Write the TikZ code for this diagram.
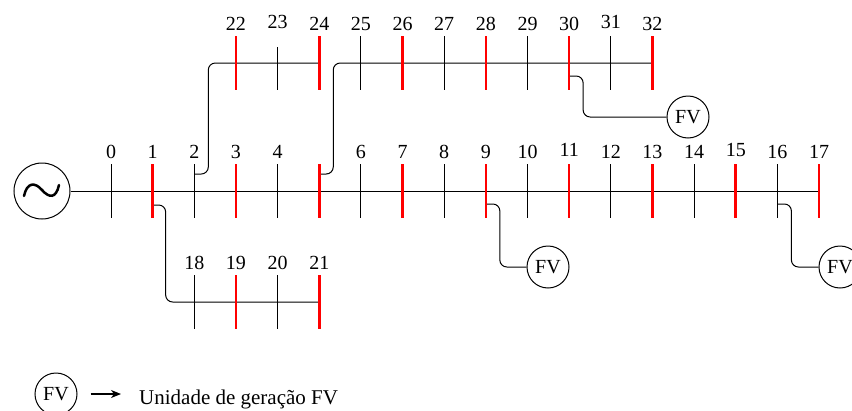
\documentclass[tikz,border=0pt]{standalone}
\usepackage{fontspec}
\setmainfont{Liberation Serif}
\usetikzlibrary{arrows.meta}
\begin{document}
\begin{tikzpicture}[x=1pt,y=-1pt,
  bl/.style={line width=1pt, black},
  rd/.style={line width=2.6pt, red},
  conn/.style={line width=1pt, black, rounded corners=7pt},
  lbl/.style={font=\fontsize{20}{20}\selectfont, anchor=base, inner sep=0pt},
  fvnode/.style={circle, draw, line width=1pt, minimum size=42pt, inner sep=0pt, font=\fontsize{20}{20}\selectfont},
  gennode/.style={circle, draw, line width=1pt, minimum size=56pt, inner sep=0pt},
  tilde/.style={line width=2.5pt, line cap=round},
  legarrow/.style={line width=1.2pt, -{Stealth[length=10pt,width=8pt,inset=3pt]}}]
\useasboundingbox (0,0) rectangle (852,410);
\clip (0,0) rectangle (852,410);
% bus coordinates
\foreach \i in {0,...,17} \coordinate (b\i) at ({111+41.65*\i},191);
\foreach \i/\k in {18/2,19/3,20/4,21/5} \coordinate (b\i) at ({111+41.65*\k},302);
\foreach \i/\k in {22/3,23/4,24/5,25/6,26/7,27/8,28/9,29/10,30/11,31/12,32/13} \coordinate (b\i) at ({111+41.65*\k},63);
% generator and PV units
\node[gennode] (gen) at (42,191) {};
\draw[tilde] (24,196) .. controls (27,182) and (35,182) .. (42,190) .. controls (49,198) and (56,199) .. (59,185);
\node[fvnode] (fv30) at (688,117) {FV};
\node[fvnode] (fv9) at (548,267) {FV};
\node[fvnode] (fv16) at (840,267) {FV};
% lines
\draw[bl] (gen.east) -- (b17);
\draw[conn] ([yshift=-14pt]b1) -- ++(13,0) |- (b21);
\draw[conn] ([yshift=17pt]b2) -- ++(14,0) |- (b24);
\draw[conn] ([yshift=17pt]b5) -- ++(14,0) |- (b32);
\draw[conn] ([yshift=-13pt]b30) -- ++(14,0) |- (fv30.west);
\draw[conn] ([yshift=-13pt]b9) -- ++(14,0) |- (fv9.west);
\draw[conn] ([yshift=-13pt]b16) -- ++(14,0) |- (fv16.west);
% ticks
\foreach \i in {0,2,4,6,8,10,12,14,16,18,20,25,27,29,31}
  \draw[bl] ([yshift=27pt]b\i) -- ([yshift=-27pt]b\i);
\draw[bl] ([yshift=16pt]b23) -- ([yshift=-27pt]b23);
\foreach \i in {1,3,5,7,9,13,17,19,21,22,24,26,28,30,32,11,15}
  \draw[rd] ([yshift=27pt]b\i) -- ([yshift=-27pt]b\i);
% labels
\foreach \i in {0,1,2,3,4,6,7,8,9,10,12,13,14,16,17,18,19,20,21,22,24,25,26,27,28,29,30,32}
  \node[lbl] (l\i) at ([yshift=33pt]b\i) {\i};
\foreach \i in {11,15,23,31}
  \node[lbl] (l\i) at ([yshift=34.5pt]b\i) {\i};
% legend
\node[fvnode] (fvleg) at (56,394) {FV};
\node[font=\fontsize{21}{21}\selectfont, anchor=base west, inner sep=0pt] (legtxt) at (139,404) {Unidade de geração FV};
\coordinate (arrend) at ([xshift=-18pt]legtxt.west |- fvleg.east);
\draw[legarrow] ([xshift=13pt]fvleg.east) -- (arrend);
\end{tikzpicture}
\end{document}
